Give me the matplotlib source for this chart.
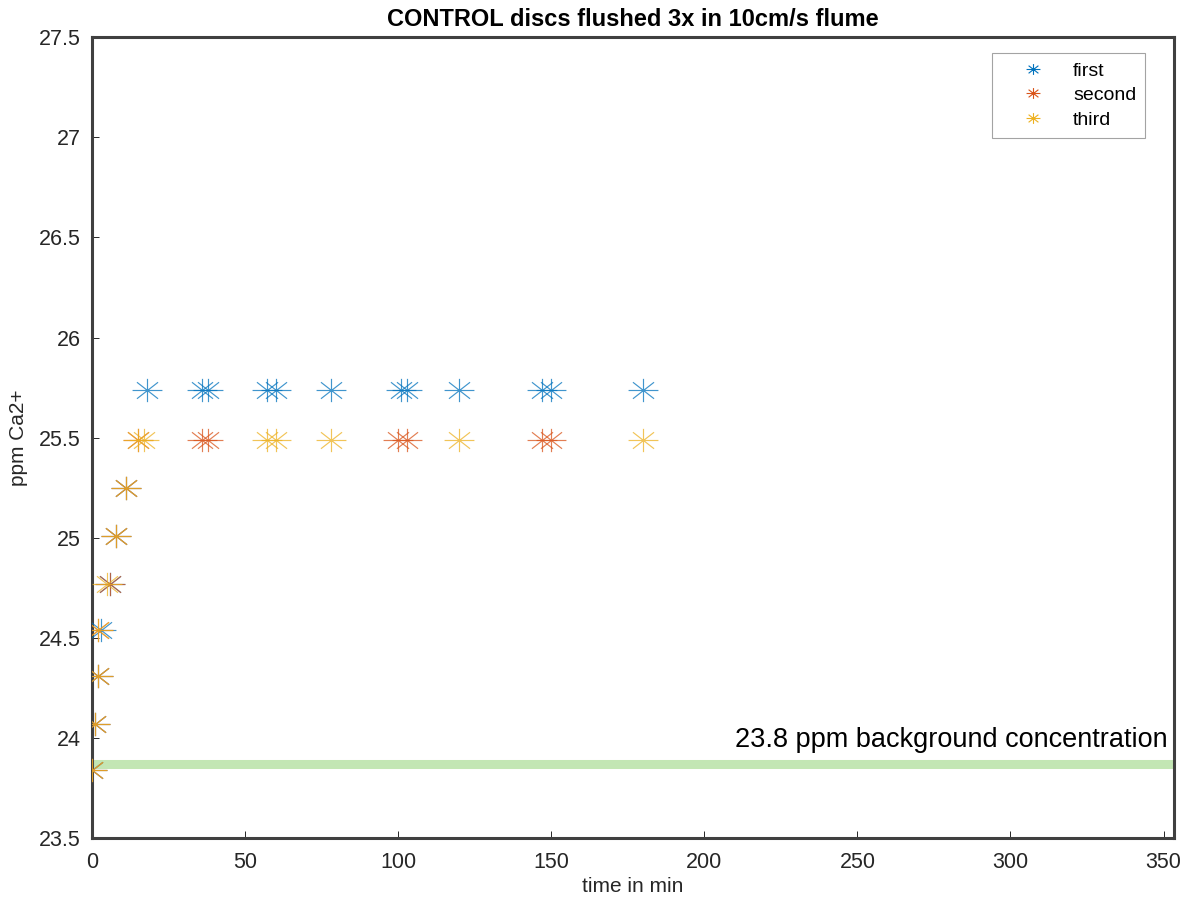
import matplotlib.pyplot as plt
from matplotlib.lines import Line2D
from matplotlib.path import Path
from matplotlib.ticker import FormatStrFormatter
import numpy as np

plt.rcParams['font.family'] = ['Liberation Sans', 'DejaVu Sans']

# ====================== DATA ======================
t_first = [0, 1, 2, 3, 6, 8, 11, 18, 36, 38, 57, 60, 78, 101, 103, 120, 147, 150, 180]
ca_first = [23.84, 24.07, 24.31, 24.54, 24.77, 25.01, 25.25,
            25.74, 25.74, 25.74, 25.74, 25.74, 25.74, 25.74, 25.74, 25.74, 25.74, 25.74, 25.74]

t_second = [0, 1, 2, 2, 6, 8, 11, 15, 36, 38, 100, 103, 147, 150]
ca_second = [23.84, 24.07, 24.31, 24.54, 24.77, 25.01, 25.25,
             25.49, 25.49, 25.49, 25.49, 25.49, 25.49, 25.49]

t_third = [0, 1, 2, 2, 5, 8, 11, 15, 17, 57, 60, 78, 120, 180]
ca_third = [23.84, 24.07, 24.31, 24.54, 24.77, 25.01, 25.25,
            25.49, 25.49, 25.49, 25.49, 25.49, 25.49, 25.49]

labels = ['first', 'second', 'third']
background = 23.87
bg_text = '23.8 ppm background concentration'

# ====================== PLOT ======================
fig = plt.figure(figsize=(11.87, 9.07), dpi=100)
ax = fig.add_axes([0.0775, 0.076, 0.9115, 0.883])

colors = ['#0072BD', '#D95319', '#EDB120']

# MATLAB-style asterisk, a bit wider than tall like in the picture
ry = 0.78
d = 0.707
star = Path([(-1, 0), (1, 0), (0, -ry), (0, ry),
             (-d, -d * ry), (d, d * ry), (-d, d * ry), (d, -d * ry)],
            [Path.MOVETO, Path.LINETO] * 4)

ax.axhline(background, color='#c3e6b4', linewidth=6.5, zorder=1)

for t, c, col in zip([t_first, t_second, t_third], [ca_first, ca_second, ca_third], colors):
    ax.plot(t, c, linestyle='none', marker=star, markersize=21.5,
            markeredgecolor=col, markeredgewidth=0.85, alpha=0.75, zorder=3)

ax.text(0.9945, background + 0.085, bg_text, transform=ax.get_yaxis_transform(),
        ha='right', va='baseline', fontsize=19.5, color='black')

ax.set_xlim(0, 353.4)
ax.set_ylim(23.5, 27.5)
ax.set_xticks(np.arange(0, 351, 50))
ax.set_yticks(np.arange(23.5, 27.51, 0.5))
ax.yaxis.set_major_formatter(FormatStrFormatter('%g'))
ax.tick_params(direction='in', length=5, width=0.7, labelsize=15.5, colors='#262626',
               labelcolor='#262626', pad=8)
ax.tick_params(axis='x', pad=10)

for s in ax.spines.values():
    s.set_linewidth(2.2)
    s.set_color('#404040')

ax.set_xlabel('time in min', fontsize=15, color='#262626', labelpad=3)
ax.set_ylabel('ppm Ca2+', fontsize=15, color='#262626', labelpad=8)
ax.set_title('CONTROL discs flushed 3x in 10cm/s flume', fontsize=17,
             fontweight='bold', pad=8)

handles = [Line2D([], [], linestyle='none', marker=star, markersize=10,
                  markeredgecolor=col, markeredgewidth=0.8) for col in colors]
leg = ax.legend(handles, labels, loc='upper right', bbox_to_anchor=(0.9732, 0.980),
                fontsize=14, frameon=True, fancybox=False, edgecolor='#8c8c8c',
                handletextpad=0.4, borderaxespad=0, borderpad=0.45,
                labelspacing=0.36, handlelength=3.3)
leg.get_frame().set_linewidth(0.8)

plt.savefig('out.png', dpi=100)
